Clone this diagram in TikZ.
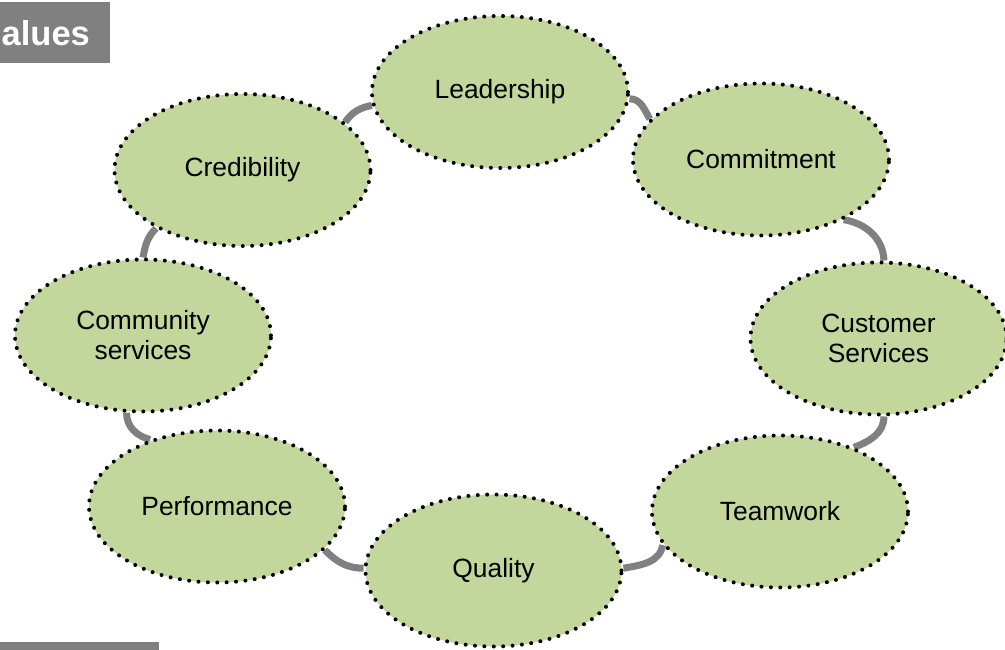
\documentclass[tikz,border=0pt]{standalone}
\usepackage{fontspec}
\setmainfont{Liberation Sans}
\usetikzlibrary{shapes.geometric,backgrounds}
\definecolor{leaf}{HTML}{C3D69B}
\definecolor{greybar}{HTML}{808080}
\begin{document}
\begin{tikzpicture}[x=1pt,y=1pt,
  value/.style={ellipse, draw=black, fill=leaf, line width=4pt,
    dash pattern=on 0pt off 9.4pt, line cap=round,
    minimum width=256pt, minimum height=152pt, inner sep=0pt,
    align=center, font=\fontsize{26.4}{30}\selectfont},
  link/.style={draw=greybar, line width=7pt}]
\useasboundingbox (0,0) rectangle (1005,650);
% title tab and bottom bar
\fill[greybar] (0,587) rectangle (110,648);
\node[anchor=base west, inner sep=0pt, text=white,
  font=\bfseries\fontsize{34.5}{40}\selectfont] (vals) at (1.5,604) {alues};
\fill[greybar] (0,0) rectangle (159,8);
% values
\node[value] (lead)  at (500,558)     {Leadership};
\node[value] (comm)  at (761,490.5)   {Commitment};
\node[value] (cust)  at (878.5,311.5) {Customer\\Services};
\node[value] (team)  at (780,138.5)   {Teamwork};
\node[value] (qual)  at (493.5,79.5)  {Quality};
\node[value] (perf)  at (217,143.5)   {Performance};
\node[value] (comm2) at (143,314.5)   {Community\\services};
\node[value] (cred)  at (242.5,480)   {Credibility};
\begin{pgfonlayer}{background}
\draw[link] (cred.25)  to[out=55,in=190]  (lead.186);
\draw[link] (lead.357) to[out=0,in=120]   (comm.160);
\draw[link] (comm.324) to[out=-10,in=92]  (cust.86);
\draw[link] (cust.274) to[out=-90,in=20]  (team.41);
\draw[link] (team.196) to[out=-100,in=10] (qual.1);
\draw[link] (qual.179) to[out=180,in=-45] (perf.338);
\draw[link] (perf.135) to[out=165,in=-90] (comm2.258);
\draw[link] (comm2.90) to[out=80,in=225]  (cred.214);
\end{pgfonlayer}
\end{tikzpicture}
\end{document}
